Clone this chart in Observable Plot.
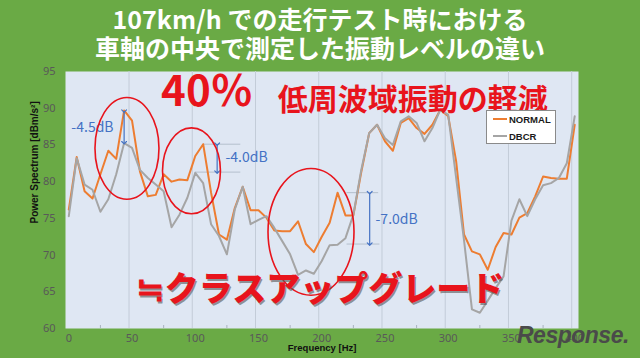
<!DOCTYPE html>
<html><head><meta charset="utf-8">
<script src="https://cdn.jsdelivr.net/npm/d3@7"></script>
<script src="https://cdn.jsdelivr.net/npm/@observablehq/plot@0.6"></script>
<style>
body{margin:0;background:#6aaa45;width:640px;height:358px;overflow:hidden;position:relative;font-family:"Noto Sans CJK JP",sans-serif;}
#title{height:65px;color:#fff;font-weight:700;font-size:25px;line-height:29px;text-align:center;padding-top:4px;box-sizing:border-box;}
#chart{height:293px;}
#legend{position:absolute;left:486px;top:110px;width:70px;height:34px;box-sizing:border-box;background:#fff;border:1px solid #8a8a8a;font:700 9.5px "Liberation Sans",Arial,sans-serif;color:#1a1a1a;}
#legend .row{position:absolute;left:6px;height:12px;display:flex;align-items:center;}
#legend .sw{width:14px;height:2px;margin-right:2px;}
#logo{position:absolute;left:517px;top:322px;font:italic 700 23px "Liberation Sans",sans-serif;color:#4a4a4a;letter-spacing:-0.5px;}
</style></head><body>
<div id="title"><div>107km/h での走行テスト時における</div><div>車軸の中央で測定した振動レベルの違い</div></div>
<div id="chart"></div>
<div id="legend">
  <div class="row" style="top:2px"><span class="sw" style="background:#ed7d31"></span>NORMAL</div>
  <div class="row" style="top:19px"><span class="sw" style="background:#a5a5a5"></span>DBCR</div>
</div>
<div id="logo">Response.</div>
<script>
const frequency = [0,6.25,12.5,18.75,25,31.25,37.5,43.75,50,56.25,62.5,68.75,75,81.25,87.5,93.75,100,106.25,112.5,118.75,125,131.25,137.5,143.75,150,156.25,162.5,168.75,175,181.25,187.5,193.75,200,206.25,212.5,218.75,225,231.25,237.5,243.75,250,256.25,262.5,268.75,275,281.25,287.5,293.75,300,306.25,312.5,318.75,325,331.25,337.5,343.75,350,356.25,362.5,368.75,375,381.25,387.5,393.75,400];
const normal = [76.2,83.35,78.7,77.7,81.0,84.2,83.1,89.7,88.3,81.4,78.0,78.2,81.0,80.0,80.3,80.2,83.5,85.1,78.5,72.8,72.1,76.4,79.3,76.1,76.1,75.1,73.35,73.25,73.25,74.6,71.5,70.4,72.5,74.4,78.5,75.4,75.4,81.3,86.6,87.75,85.5,84.2,88.0,88.65,87.3,86.5,87.75,89.8,88.9,82.8,72.8,70.5,70.1,68.0,71.1,73.0,72.8,75.1,75.7,78.0,80.7,80.5,80.4,80.4,87.75];
const dbcr = [75.3,83.2,79.6,78.9,75.9,77.6,81.0,85.25,84.6,81.6,80.5,79.6,78.7,73.8,75.5,77.8,81.2,79.8,74.2,72.6,70.1,76.2,79.3,74.2,74.8,75.3,73.7,71.9,70.1,67.3,67.9,67.45,69.2,71.35,71.4,72.3,75.5,81.6,86.6,87.75,85.9,85.0,88.2,88.9,88.0,85.5,87.3,89.8,89.1,80.5,72.0,62.6,62.15,63.8,65.5,67.1,74.7,77.6,75.3,77.6,79.5,79.8,80.5,82.5,88.9];
const seriesNames = ["NORMAL","DBCR"];
const yTicks = [60,65,70,75,80,85,90,95];
const xTicks = [0,50,100,150,200,250,300,350,400];
const gridTicks = [50,100,150,200,250,300,350,400];
const minorTicks = [25,75,125,175,225,275,325,375];

// annotations (data units)
const ellipses = [
  {f:46.4, v:84.47, rf:25.3, rv:6.93},
  {f:97.4, v:81.4, rf:22.9, rv:5.85},
  {f:191.9, v:73.1, rf:34.0, rv:8.63}
];
const dimArrows = [
  {f:43.75, top:89.6, bottom:85.3},
  {f:117.3, top:85.1, bottom:81.3},
  {f:237.9, top:78.5, bottom:71.5}
];
const dimLines = [
  {v:85.1, f1:106, f2:136},
  {v:81.3, f1:100, f2:136},
  {v:78.5, f1:220, f2:245},
  {v:71.5, f1:220, f2:246}
];
const dimLabelsCentered = [
  {text:"-4.5dB", f:18.7, v:87.4}
];
const dimLabelsLeft = [
  {text:"-4.0dB", f:123.9, v:83.3},
  {text:"-7.0dB", f:242.5, v:74.9}
];
const bigTexts = [
  {text:"40％", f:109.2, v:92.15, size:42},
  {text:"低周波域振動の軽減", f:272, v:91.06, size:30}
];
const upgradeText = [{text:"≒クラスアップグレード", f:198.6, v:65.2}];

const rows = [];
frequency.forEach((f,i) => { rows.push({f, v: normal[i], s: seriesNames[0]}); });
frequency.forEach((f,i) => { rows.push({f, v: dbcr[i], s: seriesNames[1]}); });

const RED = "#e8141c";
const BLUE = "#4472c4";
const CJK = "Noto Sans CJK JP";

const ellipseMark = (index, scales) => {
  const g = d3.create("svg:g");
  for (const e of ellipses) {
    const cx = scales.x(e.f), cy = scales.y(e.v);
    const rx = Math.abs(scales.x(e.f + e.rf) - cx), ry = Math.abs(scales.y(e.v + e.rv) - cy);
    g.append("ellipse").attr("cx", cx).attr("cy", cy).attr("rx", rx).attr("ry", ry)
      .attr("fill", "none").attr("stroke", RED).attr("stroke-width", 1.6);
  }
  return g.node();
};

const plot = Plot.plot({
  width: 640, height: 293,
  marginTop: 6, marginBottom: 30, marginLeft: 65, marginRight: 62,
  style: {background: "transparent", color: "#595959", fontFamily: "Noto Sans, sans-serif", overflow: "visible"},
  x: {domain: [-2.6, 403]},
  y: {domain: [60, 95]},
  color: {domain: seriesNames, range: ["#ed7d31", "#a5a5a5"]},
  marks: [
    Plot.frame({fill: "#dfe7f3", stroke: "none"}),
    Plot.ruleX(gridTicks, {stroke: "#c3ccd8", strokeWidth: 1, dx: -3}),
    Plot.axisX({ticks: minorTicks, tickSize: 3, dy: -3, tickFormat: () => "", stroke: "#a9b2be"}),
    Plot.axisY({ticks: yTicks, tickSize: 0, tickPadding: 10, fontSize: 11, label: null}),
    Plot.axisX({ticks: xTicks, tickSize: 0, tickPadding: 6, fontSize: 11, label: null}),
    Plot.text(["Power Spectrum [dBm/s²]"], {frameAnchor: "left", y: 74.3, dx: -31, rotate: -90, fontSize: 10, fontWeight: 700, fill: "#111", fontFamily: "Liberation Sans, Arial, sans-serif"}),
    Plot.text(["Frequency [Hz]"], {frameAnchor: "bottom", x: 200.3, dy: 22, fontSize: 9.5, fontWeight: 700, fill: "#111", fontFamily: "Liberation Sans, Arial, sans-serif"}),
    Plot.ruleY(dimLines, {y: "v", x1: "f1", x2: "f2", stroke: "#b4bfcd", strokeWidth: 1}),
    Plot.line(rows, {x: "f", y: "v", z: "s", stroke: "s", strokeWidth: 2, strokeLinejoin: "round"}),
    Plot.link(dimArrows, {x1: "f", x2: "f", y1: "top", y2: "bottom", stroke: BLUE, strokeWidth: 1.2, markerStart: "arrow", markerEnd: "arrow"}),
    Plot.text(dimLabelsCentered, {x: "f", y: "v", text: "text", textAnchor: "middle", fill: BLUE, fontSize: 14, fontFamily: CJK}),
    Plot.text(dimLabelsLeft, {x: "f", y: "v", text: "text", textAnchor: "start", fill: BLUE, fontSize: 14, fontFamily: CJK}),
    ellipseMark,
    Plot.text(bigTexts, {x: "f", y: "v", text: "text", fontSize: d => d.size, fill: RED, fontWeight: 700, fontFamily: CJK}),
    Plot.text(upgradeText, {x: "f", y: "v", text: "text", fontSize: 34, fill: "#555", fillOpacity: 0.6, fontWeight: 900, fontFamily: CJK, dx: 1.3, dy: 1.3}),
    Plot.text(upgradeText, {x: "f", y: "v", text: "text", fontSize: 34, fill: RED, fontWeight: 900, fontFamily: CJK})
  ]
});
document.getElementById("chart").appendChild(plot);
</script>
</body></html>
